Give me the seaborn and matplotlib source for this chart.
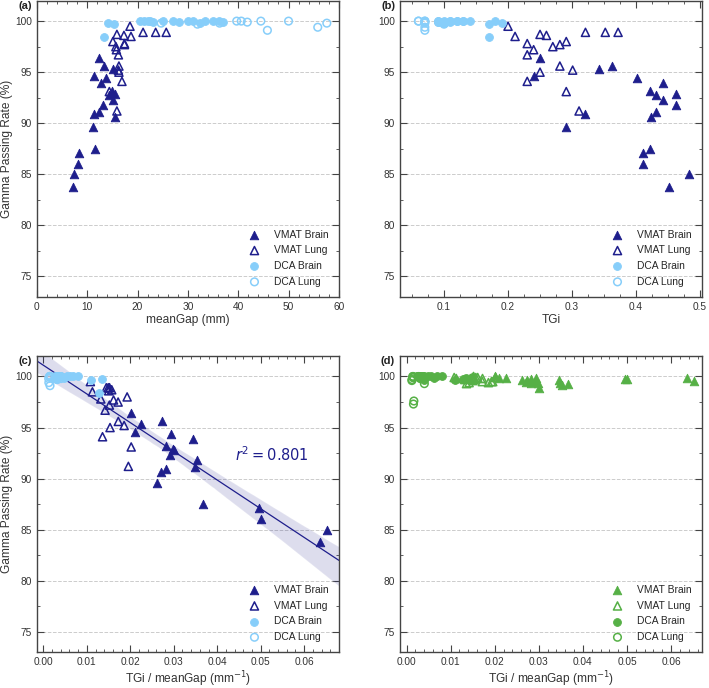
import matplotlib
matplotlib.use("Agg")
import matplotlib.pyplot as plt
from matplotlib.ticker import MultipleLocator
import seaborn as sns
import pandas as pd

# ---- data ----
# VMAT Brain
vb_gap = [7.1, 7.4, 8.2, 8.3, 11.5, 11.1, 11.4, 12.4, 13.1, 11.4,
          12.4, 12.8, 13.7, 13.3, 15.6, 15.2, 14.4, 14.9, 15.5, 15.2]
vb_tgi = [0.452, 0.483, 0.411, 0.411, 0.422, 0.291, 0.321, 0.432, 0.462, 0.240,
          0.250, 0.442, 0.402, 0.362, 0.423, 0.442, 0.432, 0.422, 0.462, 0.342]
vb_gpr = [83.8, 85.0, 86.0, 87.1, 87.5, 89.6, 90.9, 91.1, 91.8, 94.6,
          96.4, 93.9, 94.4, 95.6, 90.6, 92.3, 92.8, 93.2, 92.9, 95.3]
vb_gpr2 = [99.9, 99.6, 99.8, 99.8, 99.3, 99.7, 99.4, 99.4, 99.2, 99.9,
           100.0, 99.7, 99.9, 99.7, 99.5, 99.6, 98.9, 99.8, 99.4, 99.9]

# VMAT Lung
vl_gap = [18.5, 18.7, 17.4, 16.2, 15.8, 15.9, 17.3, 15.7, 17.4, 15.1,
          21.1, 23.6, 25.7, 16.9, 16.3, 16.3, 16.2, 14.4, 15.9]
vl_tgi = [0.200, 0.211, 0.230, 0.230, 0.240, 0.250, 0.260, 0.270, 0.281, 0.291,
          0.321, 0.352, 0.372, 0.230, 0.250, 0.281, 0.301, 0.291, 0.311]
vl_gpr = [99.5, 98.5, 97.8, 96.7, 97.2, 98.7, 98.6, 97.5, 97.7, 98.0,
          98.9, 98.9, 98.9, 94.1, 95.0, 95.6, 95.2, 93.1, 91.2]
vl_gpr2 = [99.9, 99.8, 99.7, 99.4, 99.8, 99.9, 99.6, 99.5, 99.9, 99.5,
           100.0, 99.9, 99.8, 99.3, 99.7, 99.8, 99.4, 99.9, 99.5]

# DCA Brain
db_gap = [13.3, 15.4, 14.2, 22.5, 20.5, 21.2, 22.0, 23.0, 25.0, 27.0,
          28.3, 30.0, 31.0, 32.5, 35.0, 36.2, 37.0, 33.5]
db_tgi = [0.170, 0.170, 0.190, 0.180, 0.140, 0.130, 0.120, 0.110, 0.100, 0.090,
          0.090, 0.110, 0.120, 0.100, 0.090, 0.110, 0.090, 0.130]
db_gpr = [98.4, 99.7, 99.8, 100.0, 100.0, 100.0, 100.0, 99.9, 100.0, 100.0,
          99.9, 100.0, 100.0, 99.8, 100.0, 100.0, 99.9, 100.0]
db_gpr2 = [99.8, 99.7, 99.9, 100.0, 100.0, 99.9, 100.0, 100.0, 99.8, 100.0,
           99.9, 100.0, 99.7, 100.0, 100.0, 99.9, 100.0, 100.0]

# DCA Lung
dl_gap = [24.7, 31.9, 36.3, 39.7, 40.6, 41.8, 44.5, 45.8, 50.0, 55.8, 57.6]
dl_tgi = [0.100, 0.100, 0.100, 0.060, 0.060, 0.070, 0.070, 0.070, 0.070, 0.070, 0.070]
dl_gpr = [99.8, 99.7, 99.8, 100.0, 100.0, 99.9, 100.0, 99.1, 100.0, 99.4, 99.8]
dl_gpr2 = [99.3, 99.8, 100.0, 100.0, 99.9, 97.6, 97.3, 99.9, 100.0, 99.7, 99.6]

labels = ["VMAT Brain", "VMAT Lung", "DCA Brain", "DCA Lung"]
r2_text = r"$r^2 = 0.801$"

NAVY = "#1e1e8c"
LIGHT = "#87cefa"
GREEN = "#56b046"


def make_df(gap, tgi, gpr, gpr2, name):
    d = pd.DataFrame({"meanGap": gap, "TGi": tgi, "GPR": gpr, "GPR2": gpr2})
    d["ratio"] = d["TGi"] / d["meanGap"]
    d["group"] = name
    return d


groups = [
    make_df(vb_gap, vb_tgi, vb_gpr, vb_gpr2, labels[0]),
    make_df(vl_gap, vl_tgi, vl_gpr, vl_gpr2, labels[1]),
    make_df(db_gap, db_tgi, db_gpr, db_gpr2, labels[2]),
    make_df(dl_gap, dl_tgi, dl_gpr, dl_gpr2, labels[3]),
]
# regression in (c) is fitted on the VMAT plans only
vmat = pd.concat(groups[:2], ignore_index=True)

sns.set_style("ticks")
plt.rcParams["font.family"] = ["Liberation Sans", "DejaVu Sans"]
plt.rcParams["axes.edgecolor"] = "#444444"
plt.rcParams["xtick.color"] = "#444444"
plt.rcParams["ytick.color"] = "#444444"
plt.rcParams["xtick.labelcolor"] = "#333333"
plt.rcParams["ytick.labelcolor"] = "#333333"

fig, axes = plt.subplots(2, 2, figsize=(7.09, 6.88), dpi=100)
fig.subplots_adjust(left=0.052, right=0.990, bottom=0.052, top=0.999,
                    wspace=0.202, hspace=0.20)


def draw_points(ax, xcol, ycol, dark, light):
    styles = [("^", dark, True), ("^", dark, False),
              ("o", light, True), ("o", light, False)]
    for g, (m, c, filled) in zip(groups, styles):
        if filled:
            sns.scatterplot(data=g, x=xcol, y=ycol, marker=m, color=c,
                            edgecolor=c, linewidth=0.6,
                            s=38 if m == "^" else 32, ax=ax,
                            label=g["group"].iloc[0], zorder=3)
        else:
            sns.scatterplot(data=g, x=xcol, y=ycol, marker=m, color=c,
                            facecolor="none", edgecolor=c, linewidth=1.1,
                            s=34 if m == "^" else 30, ax=ax,
                            label=g["group"].iloc[0], zorder=3)


def style_axes(ax, xmajor, xminor, tag, xlabel, ylabel):
    ax.set_ylim(73, 102)
    ax.yaxis.set_major_locator(MultipleLocator(5))
    ax.yaxis.set_minor_locator(MultipleLocator(2.5))
    ax.xaxis.set_major_locator(MultipleLocator(xmajor))
    ax.xaxis.set_minor_locator(MultipleLocator(xminor))
    ax.tick_params(which="both", direction="in", top=True, right=True,
                   labelsize=7.3)
    ax.tick_params(which="major", length=5, width=0.8)
    ax.tick_params(which="minor", length=2.5, width=0.6)
    ax.grid(axis="y", which="major", linestyle="--", color="#cccccc",
            linewidth=0.7)
    ax.set_axisbelow(True)
    for sp in ax.spines.values():
        sp.set_linewidth(1.0)
    ax.set_xlabel(xlabel, fontsize=8.6, color="#333333", labelpad=1.5)
    ax.set_ylabel(ylabel, fontsize=8.6, color="#333333", labelpad=1.5)
    ax.text(-0.016, 1.0, tag, transform=ax.transAxes, ha="right", va="top",
            fontsize=8, fontweight="bold", color="#222222")
    ax.legend(loc="lower right", frameon=False, fontsize=7.4,
              handletextpad=0.9, labelspacing=0.55, borderaxespad=0.6)


ylab = "Gamma Passing Rate (%)"
xlab_ratio = r"TGi / meanGap (mm$^{-1}$)"

# (a)
ax = axes[0, 0]
ax.set_xlim(0, 60)
draw_points(ax, "meanGap", "GPR", NAVY, LIGHT)
style_axes(ax, 10, 2, "(a)", "meanGap (mm)", ylab)

# (b)
ax = axes[0, 1]
ax.set_xlim(0.031, 0.503)
draw_points(ax, "TGi", "GPR", NAVY, LIGHT)
style_axes(ax, 0.1, 0.025, "(b)", "TGi", "")

# (c)
ax = axes[1, 0]
ax.set_xlim(-0.0015, 0.068)
sns.regplot(data=vmat, x="ratio", y="GPR", scatter=False, ax=ax,
            color=NAVY, truncate=False, seed=0,
            line_kws={"linewidth": 0.9})
draw_points(ax, "ratio", "GPR", NAVY, LIGHT)
ax.text(0.0441, 92.3, r2_text, color=NAVY, fontsize=10.5,
        ha="left", va="center")
style_axes(ax, 0.01, 0.002, "(c)", xlab_ratio, ylab)

# (d)
ax = axes[1, 1]
ax.set_xlim(-0.0015, 0.067)
draw_points(ax, "ratio", "GPR2", GREEN, GREEN)
style_axes(ax, 0.01, 0.002, "(d)", xlab_ratio, "")

fig.savefig("out.png", dpi=100)
